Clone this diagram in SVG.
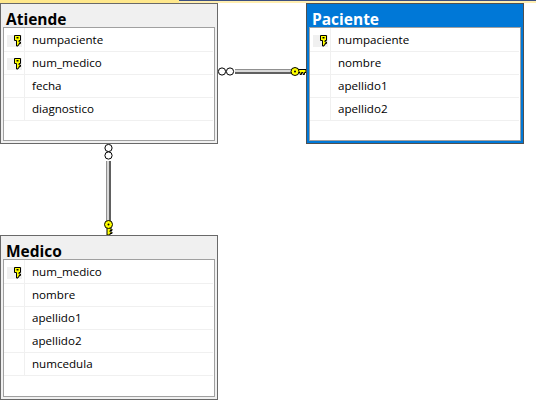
<svg xmlns="http://www.w3.org/2000/svg" width="536" height="408" viewBox="0 0 536 408">
<style>
text{font-family:"Open Sans","Noto Sans","Liberation Sans",sans-serif;fill:#000}
.t{font-size:15.500px;font-weight:700}
.c{font-size:11.600px}
.o{fill:#f0f0f0;stroke:#696969;stroke-width:1}
.i{fill:#fff;stroke:#a0a0a0;stroke-width:1}
.d{stroke:#f0f0f0;stroke-width:1;fill:none}
.kk{fill:#ff0;stroke:#000;stroke-width:1}
</style>
<defs>
<g id="k"><rect x="-9" y="-4" width="15" height="12" fill="#f0f0f0"/><path class="kk" d="M-1.500 1.500V-3.500H4.500V1.500H3V3H4.500V4.500H3V6H2V7H0.500V1.500Z"/><rect x="0.500" y="-2" width="2" height="1.500" fill="#000"/></g>
<g id="ring"><circle r="3.600" fill="#fff" stroke="#000"/></g>
</defs>
<rect x="0" y="0" width="536" height="408" fill="#fff"/>
<rect x="0" y="0" width="179" height="3" fill="#ffe88c"/>
<rect x="179" y="0" width="357" height="1" fill="#3c4f80"/>
<rect x="179" y="1" width="357" height="2" fill="#ffeeb0"/>
<g id="connectors">
<rect x="235" y="69" width="57" height="5" fill="#d8d8d8"/><rect x="235" y="69" width="57" height="1" fill="#909090"/><rect x="235" y="72" width="57" height="2" fill="#606060"/>
<rect x="106" y="161" width="5" height="60" fill="#d8d8d8"/><rect x="106" y="161" width="1" height="60" fill="#909090"/><rect x="109" y="161" width="2" height="60" fill="#606060"/>
<use href="#ring" x="222" y="71.500"/><use href="#ring" x="230" y="71.500"/>
<use href="#ring" x="108.500" y="148"/><use href="#ring" x="108.500" y="155.500"/>
<path class="kk" d="M296 69.500H306V72.500H304.500V74.500H303V72.500H301.500V74.500H300V72.500H296Z"/><circle class="kk" cx="295" cy="71.500" r="4"/><circle cx="295" cy="71.500" r="1" fill="#000"/>
<path class="kk" d="M107 226V235H110V233.500H112V232H110V230.500H112V229H110V226Z"/><circle class="kk" cx="108.500" cy="224.500" r="4"/><circle cx="108.500" cy="224.500" r="1" fill="#000"/>
</g>
<g id="atiende">
<rect class="o" x="0.500" y="3.500" width="217" height="140"/>
<rect class="i" x="3.500" y="27.500" width="211" height="113"/>
<path class="d" d="M4 51.500H213M4 74.500H213M4 97.500H213M4 120.500H213M24.500 28V120"/>
<text class="t" x="6" y="24.500">Atiende</text>
<use href="#k" x="16" y="39"/><use href="#k" x="16" y="62"/>
<text class="c" x="32" y="44">numpaciente</text><text class="c" x="32" y="67">num_medico</text><text class="c" x="32" y="90">fecha</text><text class="c" x="32" y="113">diagnostico</text>
</g>
<g id="paciente">
<rect x="306.500" y="3.500" width="217" height="140" fill="#0078d7" stroke="#505050"/>
<rect class="i" x="309.500" y="27.500" width="211" height="113"/>
<path class="d" d="M310 51.500H519M310 74.500H519M310 97.500H519M310 120.500H519M330.500 28V120"/>
<text class="t" x="312" y="24.500" style="fill:#fff">Paciente</text>
<use href="#k" x="322" y="39"/>
<text class="c" x="338" y="44">numpaciente</text><text class="c" x="338" y="67">nombre</text><text class="c" x="338" y="90">apellido1</text><text class="c" x="338" y="113">apellido2</text>
</g>
<g id="medico">
<rect class="o" x="0.500" y="235.500" width="217" height="164"/>
<rect class="i" x="3.500" y="259.500" width="211" height="137"/>
<path class="d" d="M4 283.500H213M4 306.500H213M4 329.500H213M4 352.500H213M4 375.500H213M24.500 260V375"/>
<text class="t" x="6" y="256.500">Medico</text>
<use href="#k" x="16" y="271"/>
<text class="c" x="32" y="276">num_medico</text><text class="c" x="32" y="299">nombre</text><text class="c" x="32" y="322">apellido1</text><text class="c" x="32" y="345">apellido2</text><text class="c" x="32" y="368">numcedula</text>
</g>
</svg>
